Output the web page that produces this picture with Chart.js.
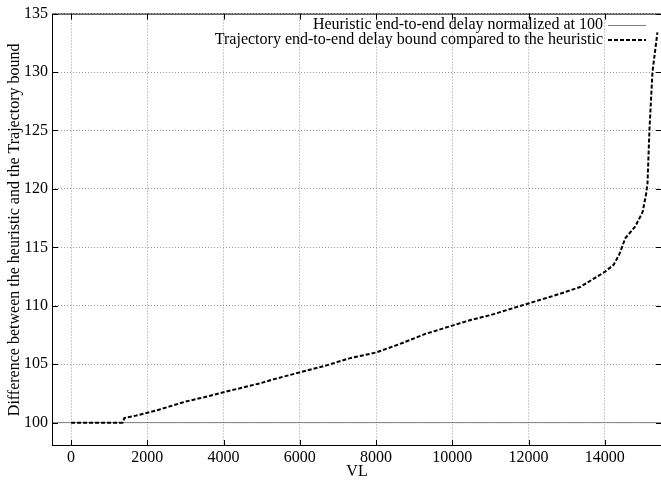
<!DOCTYPE html>
<html>
<head>
<meta charset="utf-8">
<script src="https://cdn.jsdelivr.net/npm/chart.js@4/dist/chart.umd.min.js"></script>
<style>
html,body{margin:0;padding:0;background:#fff;overflow:hidden;}
#wrap{width:663px;height:485px;}
</style>
</head>
<body>
<div id="wrap"><canvas id="c" width="663" height="485"></canvas></div>
<script>
// ---- data ----
const xTicks = [0, 2000, 4000, 6000, 8000, 10000, 12000, 14000];
const yTicks = [100, 105, 110, 115, 120, 125, 130, 135];
const heurX = [-500, 15500];
const heurY = [100, 100];
const trajX = [0, 500, 1000, 1350, 1400, 1700, 2000, 2300, 2700, 3000, 3400, 4000, 4500, 5000, 5300, 6000, 6700, 7300, 8000, 8600, 9300, 10000, 10500, 11000, 11500, 12000, 12400, 12800, 13350, 13700, 14000, 14230, 14380, 14540, 14700, 14800, 14990, 15080, 15120, 15170, 15250, 15380];
const trajY = [100, 100, 100, 100, 100.4, 100.6, 100.85, 101.1, 101.5, 101.8, 102.1, 102.6, 103.0, 103.4, 103.7, 104.3, 104.9, 105.5, 106.0, 106.7, 107.6, 108.3, 108.8, 109.2, 109.7, 110.2, 110.6, 111.0, 111.6, 112.3, 112.9, 113.5, 114.4, 115.8, 116.4, 116.8, 118.0, 119.5, 120.5, 125.0, 130.0, 133.4];
const labels = ["Heuristic end-to-end delay normalized at 100", "Trajectory end-to-end delay bound compared to the heuristic"];
const xTitle = "VL";
const yTitle = "Difference between the heuristic and the Trajectory bound";

Chart.defaults.font.family = "'Liberation Serif', 'DejaVu Serif', serif";
Chart.defaults.font.size = 16;
Chart.defaults.color = "#000";

const framePlugin = {
  id: 'frame',
  afterDraw(chart) {
    const ctx = chart.ctx, a = chart.chartArea;
    const xs = chart.scales.x, ys = chart.scales.y;
    ctx.save();
    ctx.strokeStyle = '#000';
    ctx.lineWidth = 1;
    ctx.setLineDash([]);
    ctx.strokeRect(a.left + 0.5, a.top + 0.5, a.right - a.left - 1, a.bottom - a.top - 1);
    ctx.beginPath();
    const tl = 6;
    xTicks.forEach(v => {
      const px = Math.round(xs.getPixelForValue(v)) + 0.5;
      ctx.moveTo(px, a.bottom); ctx.lineTo(px, a.bottom - tl);
      ctx.moveTo(px, a.top); ctx.lineTo(px, a.top + tl);
    });
    yTicks.forEach(v => {
      const py = Math.round(ys.getPixelForValue(v)) + 0.5;
      ctx.moveTo(a.left, py); ctx.lineTo(a.left + tl, py);
      ctx.moveTo(a.right, py); ctx.lineTo(a.right - tl, py);
    });
    ctx.stroke();
    // legend
    ctx.font = "16px 'Liberation Serif', serif";
    ctx.fillStyle = '#000';
    ctx.textAlign = 'right';
    ctx.textBaseline = 'middle';
    const tx = 603, s0 = 608, s1 = 646;
    const rows = [25, 40];
    ctx.fillText(labels[0], tx, rows[0]);
    ctx.fillText(labels[1], tx, rows[1]);
    ctx.beginPath();
    ctx.strokeStyle = '#808080';
    ctx.lineWidth = 1;
    ctx.moveTo(s0, rows[0] + 0.5); ctx.lineTo(s1, rows[0] + 0.5);
    ctx.stroke();
    ctx.beginPath();
    ctx.strokeStyle = '#000';
    ctx.lineWidth = 2;
    ctx.setLineDash([4, 2]);
    ctx.moveTo(s0, rows[1]); ctx.lineTo(s1, rows[1]);
    ctx.stroke();
    ctx.restore();
  }
};

new Chart(document.getElementById('c'), {
  type: 'scatter',
  data: {
    datasets: [
      {
        label: labels[0],
        data: heurX.map((x, i) => ({x, y: heurY[i]})),
        showLine: true, borderColor: '#808080', borderWidth: 1,
        pointRadius: 0, fill: false, order: 2
      },
      {
        label: labels[1],
        data: trajX.map((x, i) => ({x, y: trajY[i]})),
        showLine: true, borderColor: '#000', borderWidth: 2,
        borderDash: [4, 2], pointRadius: 0, fill: false, order: 1, tension: 0
      }
    ]
  },
  options: {
    responsive: false,
    animation: false,
    layout: {padding: {top: 13, right: 1, left: 0, bottom: 0}},
    plugins: {legend: {display: false}, tooltip: {enabled: false}},
    scales: {
      x: {
        type: 'linear', min: -500, max: 15500,
        afterBuildTicks(s) { s.ticks = xTicks.map(v => ({value: v})); },
        afterFit(s) { s.height = 39; },
        ticks: {padding: 2, maxRotation: 0, autoSkip: false, callback: v => String(v)},
        grid: {color: '#999', drawTicks: false, lineWidth: 1},
        border: {display: false, dash: [1, 2]},
        title: {display: true, text: xTitle, padding: {top: 0, bottom: 4}}
      },
      y: {
        type: 'linear', min: 98, max: 135,
        afterBuildTicks(s) { s.ticks = yTicks.map(v => ({value: v})); },
        afterFit(s) { s.width = 52; },
        ticks: {padding: 4, autoSkip: false, callback: v => String(v)},
        grid: {color: '#999', drawTicks: false, lineWidth: 1},
        border: {display: false, dash: [1, 2]},
        title: {display: true, text: yTitle, padding: {top: 5, bottom: 0}}
      }
    }
  },
  plugins: [framePlugin]
});
</script>
</body>
</html>
